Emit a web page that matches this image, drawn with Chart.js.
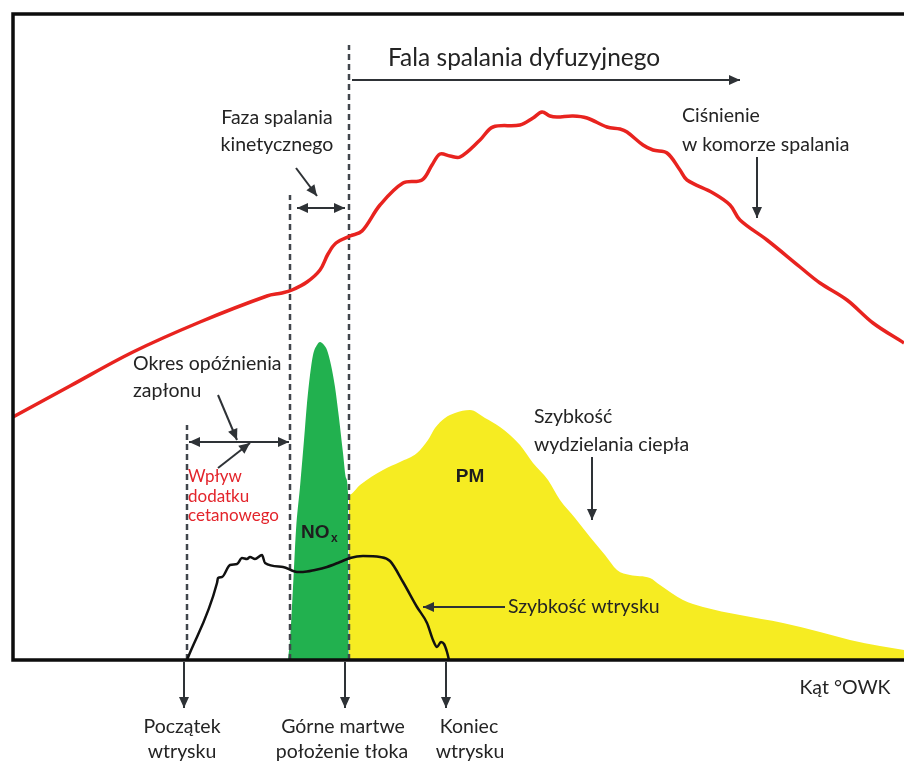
<!DOCTYPE html>
<html><head><meta charset="utf-8">
<script src="https://cdn.jsdelivr.net/npm/chart.js@4/dist/chart.umd.min.js"></script>
<style>html,body{margin:0;padding:0;background:#fff}#wrap{width:904px;height:763px;position:relative}</style>
</head><body><div id="wrap"><canvas id="c"></canvas></div>
<script>
// Crank-angle axis (arbitrary units) and magnitudes (arbitrary units above baseline)
const pressureX = [0,57,120,187,254,269,279,294,307,315,323,337,349,367,390,409,419,427,437,447,467,480,507,520,529,537,544,560,574,594,607,614,630,640,654,667,674,700,717,727,754,787,807,834,860,891];
const pressureY = [243,274,308,338,364,367,370,378,390,406,417,424,429,455,477,480,495,506,504,503,520,533,535,542,548,544,543,544,542,533,531,528,515,510,507,490,480,467,455,440,420,393,377,360,337,317];

const noxX = [275,277,280,283,287,291,294,297,300,304,307,311,314,318,322,326,330,333,335,336];
const noxY = [0,20,73,130,173,220,257,285,305,315,318,315,310,295,273,242,207,182,167,0];

const pmX = [336,336,347,370,387,404,415,422,432,442,457,472,487,507,520,535,547,562,577,592,604,617,637,647,670,690,727,770,807,837,867,891];
const pmY = [0,165,175,190,198,207,220,232,242,247,250,242,233,215,197,180,160,142,123,105,90,85,82,75,60,53,45,37,28,20,14,10];

const injX = [174,204,205,209,217,224,229,234,237,242,249,252,270,284,290,302,314,327,337,350,367,377,390,404,414,420,424,428,431,434,436];
const injY = [0,77,82,83,95,96,102,101,103,101,105,97,93,88,88,90,93,98,102,104,103,99,78,53,37,20,13,18,16,8,0];

// Vertical reference lines: start of injection, start of combustion, TDC
const markerX = [174,277,336];
const markerTop = [235,465,615];

const pts = (xs, ys) => xs.map((v,i)=>({x:v,y:ys[i]}));

const FONT = 'Lato, "Open Sans", sans-serif';
const TXT = '#242424';
const ARR = '#2e3236';

function arrowHead(ctx, x1,y1,x2,y2, len=11, w=5){
  const ang = Math.atan2(y2-y1, x2-x1);
  ctx.beginPath();
  ctx.moveTo(x2,y2);
  ctx.lineTo(x2 - len*Math.cos(ang) + w*Math.sin(ang), y2 - len*Math.sin(ang) - w*Math.cos(ang));
  ctx.lineTo(x2 - len*Math.cos(ang) - w*Math.sin(ang), y2 - len*Math.sin(ang) + w*Math.cos(ang));
  ctx.closePath(); ctx.fill();
}
function arrow(ctx, x1,y1,x2,y2, both=false){
  ctx.beginPath(); ctx.moveTo(x1,y1); ctx.lineTo(x2,y2); ctx.stroke();
  arrowHead(ctx,x1,y1,x2,y2);
  if(both) arrowHead(ctx,x2,y2,x1,y1);
}

const annot = {
  id:'annot',
  afterDatasetsDraw(chart){
    const {ctx, chartArea:a, scales:{x,y}} = chart;
    const X=v=>x.getPixelForValue(v), Y=v=>y.getPixelForValue(v);
    ctx.save();
    // frame
    ctx.strokeStyle='#0d0d0d'; ctx.lineWidth=3.5; ctx.lineCap='butt';
    ctx.beginPath();
    ctx.moveTo(a.right, a.top-1); ctx.lineTo(a.left, a.top-1); ctx.lineTo(a.left, a.bottom); ctx.lineTo(a.right, a.bottom);
    ctx.stroke();

    // arrows
    ctx.strokeStyle=ARR; ctx.fillStyle=ARR; ctx.lineWidth=2;
    arrow(ctx, X(339),Y(580), X(727),Y(580));
    arrow(ctx, X(283),Y(492), X(304),Y(464));
    arrow(ctx, X(284),Y(452), X(332),Y(452), true);
    arrow(ctx, X(744),Y(503), X(744),Y(442));
    arrow(ctx, X(205),Y(265), X(224),Y(220));
    arrow(ctx, X(176),Y(218), X(276),Y(218), true);
    arrow(ctx, X(205),Y(192), X(237),Y(217));
    arrow(ctx, X(579),Y(203), X(579),Y(140));
    arrow(ctx, X(492),Y(53), X(410),Y(53));
    arrow(ctx, X(171),Y(-2), X(171),Y(-48));
    arrow(ctx, X(332),Y(-2), X(332),Y(-48));
    arrow(ctx, X(433),Y(-2), X(433),Y(-48));

    // text
    ctx.textBaseline='middle';
    const t=(s,xv,yv,size,align='left',weight='normal',color=TXT,fam=FONT)=>{
      ctx.font=`${weight} ${size}px ${fam}`; ctx.textAlign=align; ctx.fillStyle=color;
      ctx.fillText(s, X(xv), Y(yv));
    };
    t('Fala spalania dyfuzyjnego', 375, 602, 24.5);
    t('Faza spalania', 264, 542, 19.5, 'center');
    t('kinetycznego', 264, 515, 19.5, 'center');
    t('Ciśnienie', 669, 544, 19.5);
    t('w komorze spalania', 669, 515, 19.5);
    t('Okres opóźnienia', 120, 296, 19.5);
    t('zapłonu', 120, 269, 19.5);
    t('Wpływ', 175, 183, 17, 'left','normal','#e3242b');
    t('dodatku', 175, 163, 17, 'left','normal','#e3242b');
    t('cetanowego', 175, 144, 17, 'left','normal','#e3242b');
    t('NO', 288, 127, 19, 'left','bold','#1e1e1e','"Liberation Sans", Arial, sans-serif');
    t('x', 318, 121, 12, 'left','bold','#1e1e1e','"Liberation Sans", Arial, sans-serif');
    t('PM', 457, 183, 19, 'center','bold','#1e1e1e','"Liberation Sans", Arial, sans-serif');
    t('Szybkość', 521, 243, 19.5);
    t('wydzielania ciepła', 521, 215, 19.5);
    t('Szybkość wtrysku', 495, 53, 19.5);
    t('Kąt °OWK', 832, -28, 19.5, 'center');
    t('Początek', 169, -67, 19.5, 'center');
    t('wtrysku', 169, -92, 19.5, 'center');
    t('Górne martwe', 330, -67, 19.5, 'center');
    t('położenie tłoka', 329, -92, 19.5, 'center');
    t('Koniec', 456, -67, 19.5, 'center');
    t('wtrysku', 457, -92, 19.5, 'center');
    ctx.restore();
  }
};

const dashed = markerX.map((mx,i)=>({
  data:[{x:mx,y:0},{x:mx,y:markerTop[i]}],
  borderColor:'#41464c', borderWidth:2.5, borderDash:[6,4], pointRadius:0, fill:false, order:2, tension:0
}));

new Chart(document.getElementById('c'), {
  type:'line',
  data:{datasets:[
    {label:'Ciśnienie', data:pts(pressureX,pressureY), borderColor:'#e8231f', borderWidth:3.5, pointRadius:0, fill:false, tension:0.35, order:0},
    {label:'Szybkość wtrysku', data:pts(injX,injY), borderColor:'#111', borderWidth:2.5, pointRadius:0, fill:false, cubicInterpolationMode:'monotone', order:1},
    ...dashed,
    {label:'NOx', data:pts(noxX,noxY), borderColor:'rgba(0,0,0,0)', borderWidth:0, backgroundColor:'#22b14f', pointRadius:0, fill:'origin', cubicInterpolationMode:'monotone', order:3},
    {label:'PM', data:pts(pmX,pmY), borderColor:'rgba(0,0,0,0)', borderWidth:0, backgroundColor:'#f6ec22', pointRadius:0, fill:'origin', cubicInterpolationMode:'monotone', order:4},
  ]},
  options:{
    responsive:true, maintainAspectRatio:false, animation:false,
    layout:{padding:{left:13, top:15, right:0, bottom:103}},
    plugins:{legend:{display:false}, tooltip:{enabled:false}},
    events:[],
    scales:{
      x:{type:'linear', min:0, max:891, display:false},
      y:{type:'linear', min:0, max:645, display:false}
    }
  },
  plugins:[annot]
});
</script>
</body></html>
